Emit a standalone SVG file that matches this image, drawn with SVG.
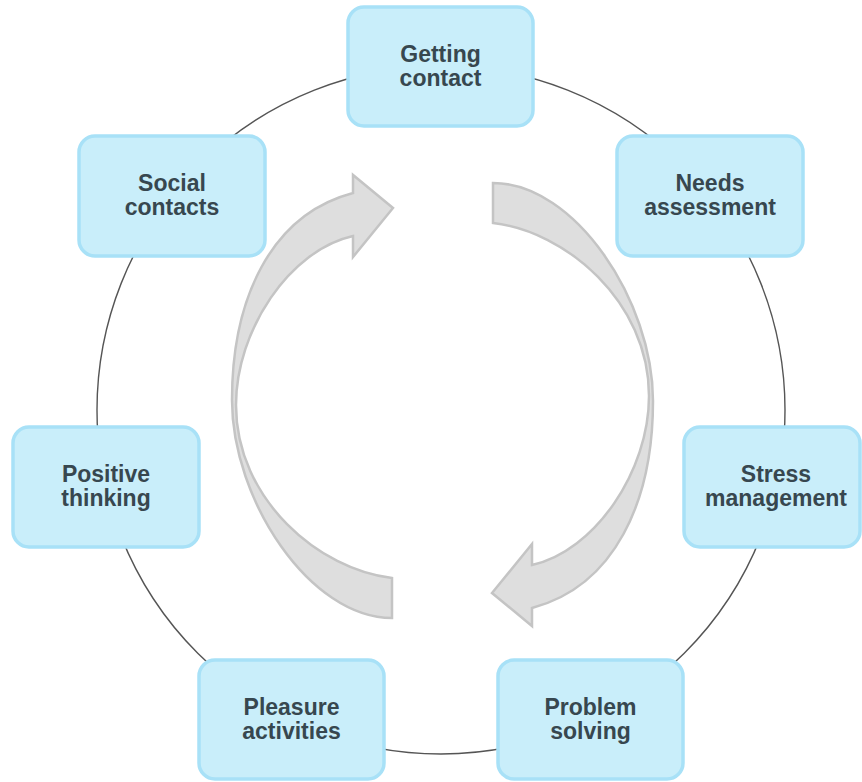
<svg xmlns="http://www.w3.org/2000/svg" xmlns:xlink="http://www.w3.org/1999/xlink" width="862" height="782" viewBox="0 0 862 782">
  <style>
    .box { fill: #c9eefa; stroke: #a8e1f7; stroke-width: 3.5; }
    .label { font-family: "Liberation Sans", Arial, sans-serif; font-weight: bold; font-size: 23px; fill: #37474f; text-anchor: middle; }
    .ring { fill: none; stroke: #555555; stroke-width: 1.4; }
    .cycle { fill: #dedede; stroke: #c4c4c4; stroke-width: 2.5; stroke-linejoin: miter; }
  </style>
  <defs>
    <!-- curved block arrow: tail at bottom, sweeping up the left side, head pointing right -->
    <path id="curved-arrow" d="M 392,618 C 310,618 232,500 232,400 C 232,300 270,215 353,193 L 353,175 L 393,208 L 353,257 L 353,236 C 290,250 236,330 236,405 C 236,500 320,570 392,578 Z"/>
  </defs>

  <rect width="862" height="782" fill="#ffffff"/>

  <g id="connectors">
    <circle class="ring" cx="441" cy="410" r="344"/>
  </g>

  <g id="cycle-arrows">
    <use xlink:href="#curved-arrow" class="cycle"/>
    <use xlink:href="#curved-arrow" class="cycle" transform="rotate(180 442.5 400.5)"/>
  </g>

  <g id="getting-contact">
    <rect class="box" x="348" y="7" width="185" height="119" rx="16"/>
    <text class="label" x="440.5" y="62">Getting</text>
    <text class="label" x="440.5" y="86">contact</text>
  </g>

  <g id="needs-assessment">
    <rect class="box" x="617" y="136" width="186" height="120" rx="16"/>
    <text class="label" x="710" y="191">Needs</text>
    <text class="label" x="710" y="215">assessment</text>
  </g>

  <g id="stress-management">
    <rect class="box" x="684" y="427" width="176" height="120" rx="16"/>
    <text class="label" x="776" y="482">Stress</text>
    <text class="label" x="776" y="506">management</text>
  </g>

  <g id="problem-solving">
    <rect class="box" x="498" y="660" width="185" height="119" rx="16"/>
    <text class="label" x="590.5" y="715">Problem</text>
    <text class="label" x="590.5" y="739">solving</text>
  </g>

  <g id="pleasure-activities">
    <rect class="box" x="199" y="660" width="185" height="119" rx="16"/>
    <text class="label" x="291.5" y="715">Pleasure</text>
    <text class="label" x="291.5" y="739">activities</text>
  </g>

  <g id="positive-thinking">
    <rect class="box" x="13" y="427" width="186" height="120" rx="16"/>
    <text class="label" x="106" y="482">Positive</text>
    <text class="label" x="106" y="506">thinking</text>
  </g>

  <g id="social-contacts">
    <rect class="box" x="79" y="136" width="186" height="120" rx="16"/>
    <text class="label" x="172" y="191">Social</text>
    <text class="label" x="172" y="215">contacts</text>
  </g>
</svg>
